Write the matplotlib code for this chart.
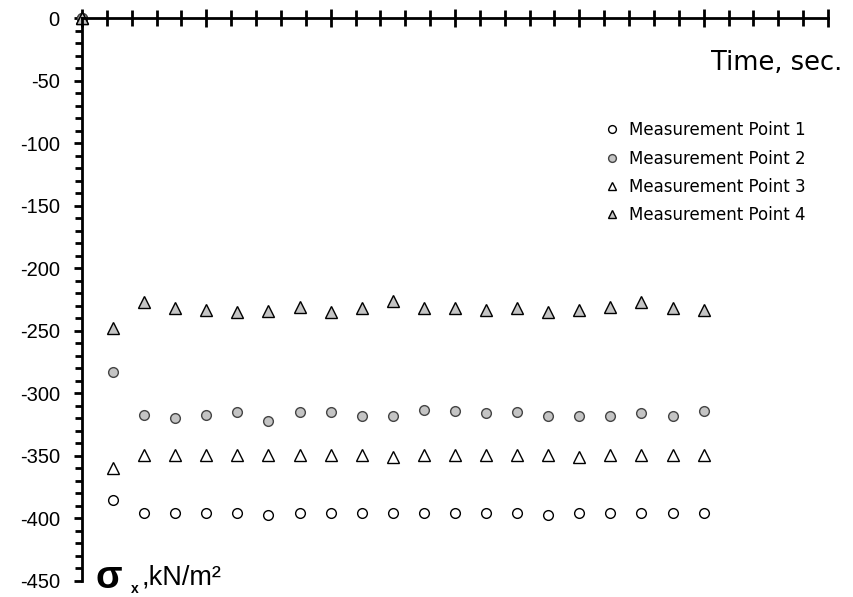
import numpy as np
import matplotlib.pyplot as plt
from matplotlib.ticker import MultipleLocator

plt.rcParams['axes.unicode_minus'] = False

# time, sec. (origin point plus 20 readings)
t = [0, 2.5, 5, 7.5, 10, 12.5, 15, 17.5, 20, 22.5, 25,
     27.5, 30, 32.5, 35, 37.5, 40, 42.5, 45, 47.5, 50]

# sigma_x, kN/m2
mp1 = [0, -385, -396, -396, -396, -396, -397, -396, -396, -396, -396,
       -396, -396, -396, -396, -397, -396, -396, -396, -396, -396]
mp2 = [0, -283, -317, -320, -317, -315, -322, -315, -315, -318, -318,
       -313, -314, -316, -315, -318, -318, -318, -316, -318, -314]
mp3 = [0, -360, -349, -349, -349, -349, -349, -349, -349, -349, -351,
       -349, -349, -349, -349, -349, -351, -349, -349, -349, -349]
mp4 = [0, -248, -227, -232, -233, -235, -234, -231, -235, -232, -226,
       -232, -232, -233, -232, -235, -233, -231, -227, -232, -233]

labels = ['Measurement Point 1', 'Measurement Point 2',
          'Measurement Point 3', 'Measurement Point 4']

fig = plt.figure(figsize=(8.54, 5.97), dpi=100)
ax = fig.add_axes([82/854, 1-581/597, (828-82)/854, (581-18)/597])

gray = '#c4c4c4'
ax.plot(t, mp1, 'o', ms=7, mfc='white', mec='black', mew=1.0, label=labels[0], clip_on=False)
ax.plot(t, mp2, 'o', ms=7, mfc=gray, mec='#444444', mew=1.0, label=labels[1], clip_on=False)
ax.plot(t, mp3, '^', ms=8, mfc='white', mec='black', mew=1.0, label=labels[2], clip_on=False)
ax.plot(t, mp4, '^', ms=8, mfc=gray, mec='black', mew=1.0, label=labels[3], clip_on=False)

ax.set_xlim(0, 60)
ax.set_ylim(-450, 0)

ax.spines['right'].set_visible(False)
ax.spines['bottom'].set_visible(False)
ax.spines['top'].set_linewidth(2)
ax.spines['left'].set_linewidth(2)

ax.xaxis.tick_top()
ax.xaxis.set_major_locator(MultipleLocator(10))
ax.xaxis.set_minor_locator(MultipleLocator(2))
ax.tick_params(axis='x', which='major', direction='inout', length=13, width=2, labeltop=False)
ax.tick_params(axis='x', which='minor', direction='inout', length=11, width=2)

ax.yaxis.set_major_locator(MultipleLocator(50))
ax.yaxis.set_minor_locator(MultipleLocator(10))
ax.tick_params(axis='y', which='major', direction='out', length=6, width=2,
               labelsize=14.5, pad=10)
ax.tick_params(axis='y', which='minor', direction='out', length=5, width=2)
for lb in ax.get_yticklabels():
    lb.set_family('Liberation Sans')

fig.text(842/854, 1-63/597, 'Time, sec.', ha='right', va='center', fontsize=18.5)

fig.text(96/854, 1-578/597, 'σ', fontsize=28, ha='left', va='center',
         family='Liberation Sans', weight='bold')
fig.text(131/854, 1-589/597, 'x', fontsize=10, ha='left', va='center',
         family='Liberation Sans', weight='bold')
fig.text(142/854, 1-578/597, ',kN/m²', fontsize=19.5, ha='left', va='center',
         family='Liberation Sans')

leg = ax.legend(loc='upper left', bbox_to_anchor=(597/854, 1-113/597),
                bbox_transform=fig.transFigure, frameon=False, fontsize=12,
                markerscale=0.8, handlelength=0.8, handletextpad=0.6,
                labelspacing=0.62, borderpad=0)

fig.savefig('out.png', dpi=100)
